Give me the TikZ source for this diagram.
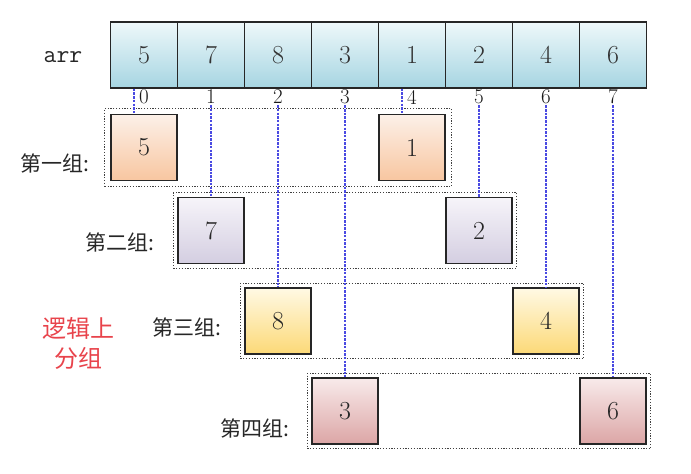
\documentclass[tikz,border=0pt]{standalone}
\usepackage{fontspec}
\newfontfamily\cjk{Noto Sans CJK SC}
\usetikzlibrary{fit}
\definecolor{arrTop}{HTML}{EEF8FA}
\definecolor{arrBot}{HTML}{A6D5E2}
\definecolor{gATop}{HTML}{FCF0E8}
\definecolor{gABot}{HTML}{F8C6A0}
\definecolor{gBTop}{HTML}{F6F4F9}
\definecolor{gBBot}{HTML}{D4CEE1}
\definecolor{gCTop}{HTML}{FFF9E4}
\definecolor{gCBot}{HTML}{FCD977}
\definecolor{gDTop}{HTML}{F8EAEA}
\definecolor{gDBot}{HTML}{DCA6A6}
\definecolor{linkBlue}{HTML}{4A4AE2}
\definecolor{noteRed}{HTML}{E8434B}
\begin{document}
\begin{tikzpicture}[x=1pt,y=-1pt,
  cell/.style={draw=black!85, line width=1.4pt, minimum width=67pt, minimum height=66pt,
    inner sep=0pt, top color=arrTop, bottom color=arrBot,
    font=\fontsize{26}{30}\selectfont, text=black!80},
  idx/.style={inner sep=1pt, font=\fontsize{21}{23}\selectfont, text=black!90},
  gbox/.style={draw=black!85, line width=1.4pt, minimum width=66pt, minimum height=66pt,
    inner sep=0pt, font=\fontsize{26}{30}\selectfont, text=black!85},
  gA/.style={gbox, top color=gATop, bottom color=gABot},
  gB/.style={gbox, top color=gBTop, bottom color=gBBot},
  gC/.style={gbox, top color=gCTop, bottom color=gCBot},
  gD/.style={gbox, top color=gDTop, bottom color=gDBot},
  frame/.style={draw=black!75, dash pattern=on 1.2pt off 1.6pt, line width=1.2pt, inner sep=4pt},
  link/.style={draw=linkBlue, dash pattern=on 2.5pt off 1.2pt, line width=1.05pt},
  glabel/.style={anchor=east, inner sep=0pt, font=\cjk\fontsize{21}{24}\selectfont, text=black!85}
]
\useasboundingbox (0,0) rectangle (691,474);

% array
\foreach \v [count=\i from 0] in {5,7,8,3,1,2,4,6}{
  \node[cell] (c\i) at ({144+67*\i},55) {\v};
  \node[idx] (i\i) at ({144+67*\i},97) {\i};
}
\node[inner sep=0pt, font=\ttfamily\fontsize{25}{28}\selectfont, text=black!85] (arr) at (63,57) {arr};

% group boxes
\node[gA] (b0) at (144,147.5) {5};
\node[gA] (b4) at (412,147.5) {1};
\node[gB] (b1) at (211,230.5) {7};
\node[gB] (b5) at (479,230.5) {2};
\node[gC] (b2) at (278,321) {8};
\node[gC] (b6) at (546,321) {4};
\node[gD] (b3) at (345,411) {3};
\node[gD] (b7) at (613,411) {6};

% group frames
\node[frame, inner sep=5.5pt, fit=(b0)(b4)] (f1) {};
\node[frame, fit=(b1)(b5)] (f2) {};
\node[frame, fit=(b2)(b6)] (f3) {};
\node[frame, fit=(b3)(b7)] (f4) {};

% links
\draw[link] ([xshift=-10pt]c0.south) -- ([xshift=-10pt]b0.north);
\draw[link] ([xshift=-10pt]c4.south) -- ([xshift=-10pt]b4.north);
\draw[link] (i1.south) -- (b1.north);
\draw[link] (i5.south) -- (b5.north);
\draw[link] (i2.south) -- (b2.north);
\draw[link] (i6.south) -- (b6.north);
\draw[link] (i3.south) -- (b3.north);
\draw[link] (i7.south) -- (b7.north);

% labels
\node[glabel] (l1) at (90,163) {第一组:};
\node[glabel] (l2) at (155,242) {第二组:};
\node[glabel] (l3) at (222,327) {第三组:};
\node[glabel] (l4) at (290,428) {第四组:};
\node[align=center, inner sep=0pt, text=noteRed, font=\cjk\fontsize{24}{30}\selectfont] (note) at (78,343) {逻辑上\\分组};
\end{tikzpicture}
\end{document}
